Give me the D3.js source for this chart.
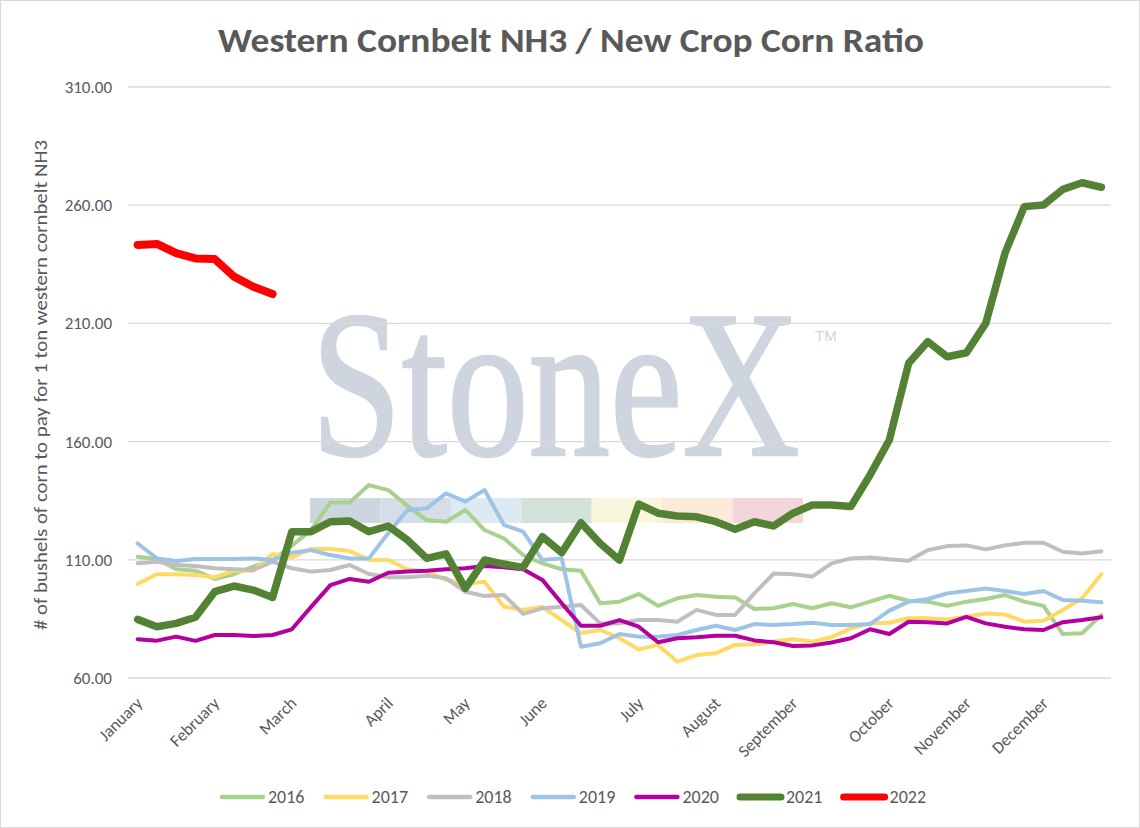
<!DOCTYPE html>
<html><head><meta charset="utf-8">
<script src="https://cdn.jsdelivr.net/npm/d3@7"></script>
<style>
html,body{margin:0;padding:0;background:#fff;}
svg{display:block;}
</style></head>
<body>
<div id="chart"></div>
<script>
// ---- data ----
const weeks = d3.range(51);
const monthLabels = ["January","February","March","April","May","June","July","August","September","October","November","December"];
const monthTickIndex = [0,4,8,13,17,21,26,30,34,39,43,47];
const yTicks = [60,110,160,210,260,310];
const seriesNames = ["2016","2017","2018","2019","2020","2021","2022"];
const s2016 = [111.3,110.3,106,105.4,101.9,103.9,107.1,109.9,116,122.6,134.2,134.2,141.6,139.5,132.8,126.8,126.1,131.1,122.6,119.1,112.0,108.5,106.0,105.4,91.6,92.3,95.5,90.5,93.7,95.1,94.4,94.1,89.2,89.5,91.3,89.5,91.6,89.9,92.3,94.8,92.7,92.3,90.5,92.3,93.4,95.1,92.3,90.5,78.6,78.9,86.6];
const s2017 = [99.8,103.9,103.9,103.6,102.6,105.4,105.4,112.5,111.0,114.6,114.6,113.7,109.9,109.9,106,105,101.5,100.0,100.7,90.1,88.8,90.1,84.5,78.9,80.3,76.8,72.1,74.0,66.9,69.7,70.5,74.0,74.3,75.4,76.4,75.4,77.3,81.0,83.1,83.4,85.3,85.3,84.8,85.9,87.3,86.9,83.8,84.2,88.8,93.7,103.9];
const s2018 = [108.5,109.2,107.8,107.4,106.4,106,105.7,109.2,106.4,105,105.7,107.8,104,102.6,102.6,103.3,102.2,96.5,94.7,95.1,87.1,89.5,90.1,90.9,83.1,83.1,84.5,84.5,83.8,88.8,86.7,86.7,95.8,104.2,103.9,102.9,108.5,110.6,111.0,110.2,109.6,114.1,115.8,116.1,114.4,116.1,117.2,117.2,113.4,112.7,113.6];
const s2019 = [116.9,110.6,109.5,110.3,110.3,110.3,110.6,109.9,113,114.1,112,110.6,110.6,121.2,131.1,131.8,138.1,134.6,139.5,124.8,121.9,109.9,110.6,73.2,74.7,78.6,77.5,77.5,78.2,80.3,82.1,80.3,82.8,82.4,82.8,83.4,82.4,82.4,82.8,88.5,92.3,93.4,95.8,96.8,97.9,96.8,95.5,96.8,93.0,92.7,92.0];
const s2020 = [76.4,75.8,77.5,75.7,78.2,78.2,77.8,78.2,80.6,90.1,99.3,101.9,100.7,104.5,105,105.4,106.0,106.4,107.4,106.8,106.0,101.5,91.6,82.1,82.1,84.5,81.7,75.1,76.8,77.2,77.9,77.9,75.9,75.1,73.5,73.8,75.0,76.8,80.6,78.6,83.8,83.6,83.1,85.9,83.1,81.7,80.6,80.3,83.6,84.5,85.7];
const s2021 = [84.8,81.7,83.1,85.7,96.5,98.9,97.2,94.1,121.9,121.9,126.1,126.4,121.9,124.3,118.4,110.6,112.5,97.9,109.9,108.2,106.8,119.8,113,125.7,116.9,109.9,133.6,129.7,128.5,128.2,126.1,122.9,126.1,124.3,129.7,133.2,133.2,132.5,145.9,160.7,193.1,202.3,195.9,197.6,210,239.7,259.4,260.1,266.7,269.5,267.6];
const s2022 = [243.2,243.6,239.7,237.5,237.2,229.8,225.5,222.4];
const seriesValues = [s2016,s2017,s2018,s2019,s2020,s2021,s2022];
const seriesColors = ["#A9D18E","#FFD966","#BFBFBF","#9DC3E6","#B4009E","#548235","#FF0000"];
const seriesWidths = [4,4,4,4,4,7.5,8];
const bandColors = ["#CDD5DF","#D5DEE8","#DDE9F3","#D2E2D9","#F8F7DE","#FBE9D9","#F2D6D9"];

// ---- layout ----
const W = 1140, H = 828;
const m = {left:128, right:1111, top:87, bottom:678};
const FONT = "Carlito, Calibri, 'Liberation Sans', Arial, sans-serif";
const TXT = "#595959";

const svg = d3.select("#chart").append("svg").attr("width",W).attr("height",H)
  .style("font-family",FONT);
svg.append("rect").attr("x",0.5).attr("y",0.5).attr("width",W-1).attr("height",H-1)
  .attr("fill","#fff").attr("stroke","#D9D9D9");

const x = d3.scalePoint().domain(weeks).range([m.left,m.right]).padding(0.5);
const y = d3.scaleLinear().domain([60,310]).range([m.bottom,m.top]);

// watermark
const wm = svg.append("g");
const logo = wm.append("text").attr("x",0).attr("y",0).attr("fill","#CED5DF")
  .attr("stroke","#CED5DF").attr("stroke-width",2.5).attr("stroke-linejoin","round")
  .style("font-family","'Liberation Serif','DejaVu Serif',serif")
  .style("font-size","210px").text("StoneX");
const natW = logo.node().getComputedTextLength() || 630;
logo.attr("transform",`translate(311,455) scale(${489/natW},1)`);
wm.append("text").attr("x",815).attr("y",341).attr("fill","#CED5DF")
  .style("font-family","'Liberation Sans',sans-serif").style("font-size","15px").text("TM");
const bandX = d3.scaleLinear().domain([0,7]).range([310,803]);
wm.selectAll("rect.band").data(bandColors).join("rect").attr("class","band")
  .attr("x",(d,i)=>bandX(i)).attr("width",(d,i)=>bandX(i+1)-bandX(i))
  .attr("y",498).attr("height",25).attr("fill",d=>d);

// gridlines
svg.append("g").selectAll("line").data(yTicks).join("line")
  .attr("x1",m.left).attr("x2",m.right)
  .attr("y1",d=>y(d)).attr("y2",d=>y(d))
  .attr("stroke","#D9D9D9").attr("stroke-width",1.3);

// y axis
const yAxis = d3.axisLeft(y).tickValues(yTicks).tickSize(0).tickPadding(16).tickFormat(d3.format(".2f"));
const gy = svg.append("g").attr("transform",`translate(${m.left},0)`).call(yAxis);
gy.select(".domain").remove();
gy.selectAll("text").attr("fill",TXT).style("font-size","17px").style("font-family",FONT);

// x axis labels
const xAxis = d3.axisBottom(x).tickValues(monthTickIndex).tickSize(0)
  .tickFormat(d=>monthLabels[monthTickIndex.indexOf(d)]);
const gx = svg.append("g").attr("transform",`translate(0,${m.bottom})`).call(xAxis);
gx.select(".domain").remove();
gx.selectAll("text").attr("fill",TXT).style("font-size","17px").style("font-family",FONT)
  .attr("text-anchor","end").attr("y",0).attr("dy","0.35em")
  .attr("transform","translate(1,22) rotate(-45)");

// axis title
svg.append("text").attr("transform","translate(47,385) rotate(-90)")
  .attr("text-anchor","middle").attr("fill",TXT).style("font-size","19px")
  .attr("textLength",490).attr("lengthAdjust","spacingAndGlyphs")
  .text("# of bushels of corn to pay for 1 ton western cornbelt NH3");

// title
svg.append("text").attr("x",571).attr("y",52).attr("text-anchor","middle")
  .attr("fill",TXT).style("font-size","35px").style("font-weight","bold")
  .attr("textLength",706).attr("lengthAdjust","spacingAndGlyphs")
  .text("Western Cornbelt NH3 / New Crop Corn Ratio");

// lines
const line = d3.line().defined(d=>d!=null).x((d,i)=>x(i)).y(d=>y(d));
svg.append("g").selectAll("path").data(seriesValues).join("path")
  .attr("d",d=>line(d)).attr("fill","none")
  .attr("stroke",(d,i)=>seriesColors[i]).attr("stroke-width",(d,i)=>seriesWidths[i])
  .attr("stroke-linejoin","round").attr("stroke-linecap","round");

// legend
const legX = d3.scaleLinear().domain([0,1]).range([222,325.6]);
const lg = svg.append("g").selectAll("g").data(seriesNames).join("g")
  .attr("transform",(d,i)=>`translate(${legX(i)},797)`);
lg.append("line").attr("x1",0).attr("x2",41).attr("y1",0).attr("y2",0)
  .attr("stroke",(d,i)=>seriesColors[i]).attr("stroke-width",(d,i)=>i>=5?7:4.5)
  .attr("stroke-linecap","round");
lg.append("text").attr("x",46).attr("y",0).attr("dy","0.35em").attr("fill",TXT)
  .style("font-size","18px").text(d=>d);
</script>
</body></html>
